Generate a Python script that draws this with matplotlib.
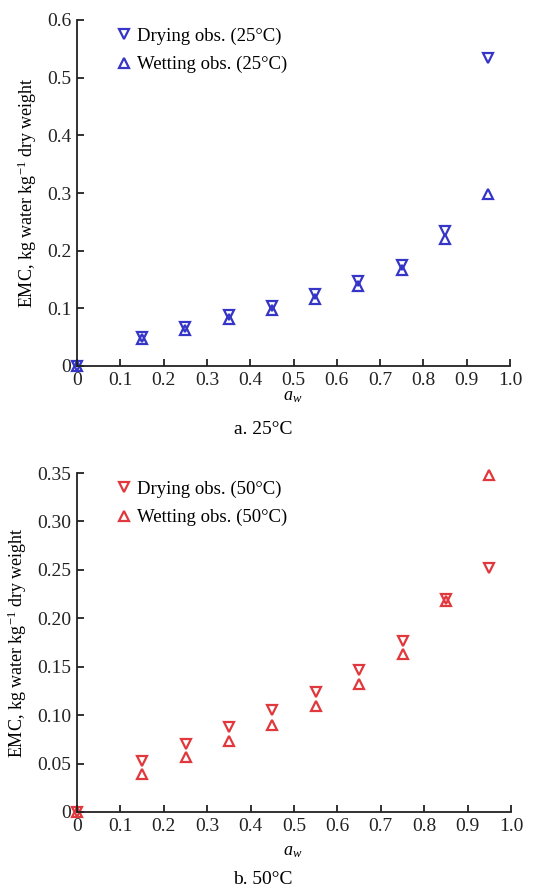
import matplotlib
matplotlib.use("Agg")
import matplotlib.pyplot as plt
from matplotlib.ticker import FixedLocator

aw = [0.0, 0.15, 0.25, 0.35, 0.45, 0.55, 0.65, 0.75, 0.85, 0.95]
dry25 = [0.0, 0.050, 0.068, 0.088, 0.104, 0.124, 0.147, 0.175, 0.234, 0.534]
wet25 = [0.0, 0.047, 0.063, 0.081, 0.097, 0.116, 0.138, 0.167, 0.221, 0.298]
dry50 = [0.0, 0.0523, 0.0706, 0.0878, 0.1057, 0.124, 0.147, 0.177, 0.220, 0.252]
wet50 = [0.0, 0.0389, 0.0568, 0.0733, 0.0895, 0.109, 0.1325, 0.163, 0.218, 0.348]

xticks = [0, 0.1, 0.2, 0.3, 0.4, 0.5, 0.6, 0.7, 0.8, 0.9, 1.0]
xticklabels = ["0", "0.1", "0.2", "0.3", "0.4", "0.5", "0.6", "0.7", "0.8", "0.9", "1.0"]
yticks25 = [0, 0.1, 0.2, 0.3, 0.4, 0.5, 0.6]
yticklabels25 = ["0", "0.1", "0.2", "0.3", "0.4", "0.5", "0.6"]
yticks50 = [0, 0.05, 0.10, 0.15, 0.20, 0.25, 0.30, 0.35]
yticklabels50 = ["0", "0.05", "0.10", "0.15", "0.20", "0.25", "0.30", "0.35"]

plt.rcParams['font.family'] = ['Liberation Serif', 'DejaVu Serif']
plt.rcParams['mathtext.fontset'] = 'custom'
plt.rcParams['mathtext.it'] = 'Liberation Serif:italic'
plt.rcParams['mathtext.rm'] = 'Liberation Serif'

W, H = 555, 889
fig = plt.figure(figsize=(W / 100, H / 100), dpi=100)

def box(l, r, t, b):
    return [l / W, 1 - b / H, (r - l) / W, (b - t) / H]

panels = [
    dict(rect=box(77, 510, 20, 366), dry=dry25, wet=wet25, color='#3535c8',
         yt=yticks25, ytl=yticklabels25, ylim=0.6, temp='25°C', cap='a. 25°C', capy=430, xly=397),
    dict(rect=box(77, 511, 473, 812), dry=dry50, wet=wet50, color='#e0383c',
         yt=yticks50, ytl=yticklabels50, ylim=0.35, temp='50°C', cap='b. 50°C', capy=880, xly=851),
]

for p in panels:
    ax = fig.add_axes(p['rect'])
    c = p['color']
    ax.plot(aw, p['dry'], linestyle='none', marker='v', markersize=7.5, markerfacecolor='none',
            markeredgecolor=c, markeredgewidth=1.6, clip_on=False,
            label='Drying obs. (%s)' % p['temp'])
    ax.plot(aw, p['wet'], linestyle='none', marker='^', markersize=7.5, markerfacecolor='none',
            markeredgecolor=c, markeredgewidth=1.6, clip_on=False,
            label='Wetting obs. (%s)' % p['temp'])
    ax.set_xlim(0, 1.0)
    ax.set_ylim(0, p['ylim'])
    ax.xaxis.set_major_locator(FixedLocator(xticks))
    ax.set_xticklabels(xticklabels)
    ax.yaxis.set_major_locator(FixedLocator(p['yt']))
    ax.set_yticklabels(p['ytl'])
    for s in ['top', 'right']:
        ax.spines[s].set_visible(False)
    for s in ['left', 'bottom']:
        ax.spines[s].set_linewidth(1.3)
        ax.spines[s].set_color('#222222')
    ax.tick_params(direction='in', length=5, width=1.3, labelsize=14, colors='#222222', pad=4)
    ax.set_ylabel('EMC, kg water kg$^{-1}$ dry weight', fontsize=13, labelpad=6)
    ax.legend(loc='upper left', frameon=False, fontsize=13.5, handletextpad=0.2,
              borderaxespad=0.0, bbox_to_anchor=(0.07, 1.0), labelspacing=0.6,
              handlelength=1.0)
    fig.text(293 / W, 1 - p['xly'] / H, '$a_w$', ha='center', va='center', fontsize=13)
    fig.text(263 / W, 1 - p['capy'] / H, p['cap'], ha='center', va='center', fontsize=14)

fig.savefig('out.png', dpi=100)
